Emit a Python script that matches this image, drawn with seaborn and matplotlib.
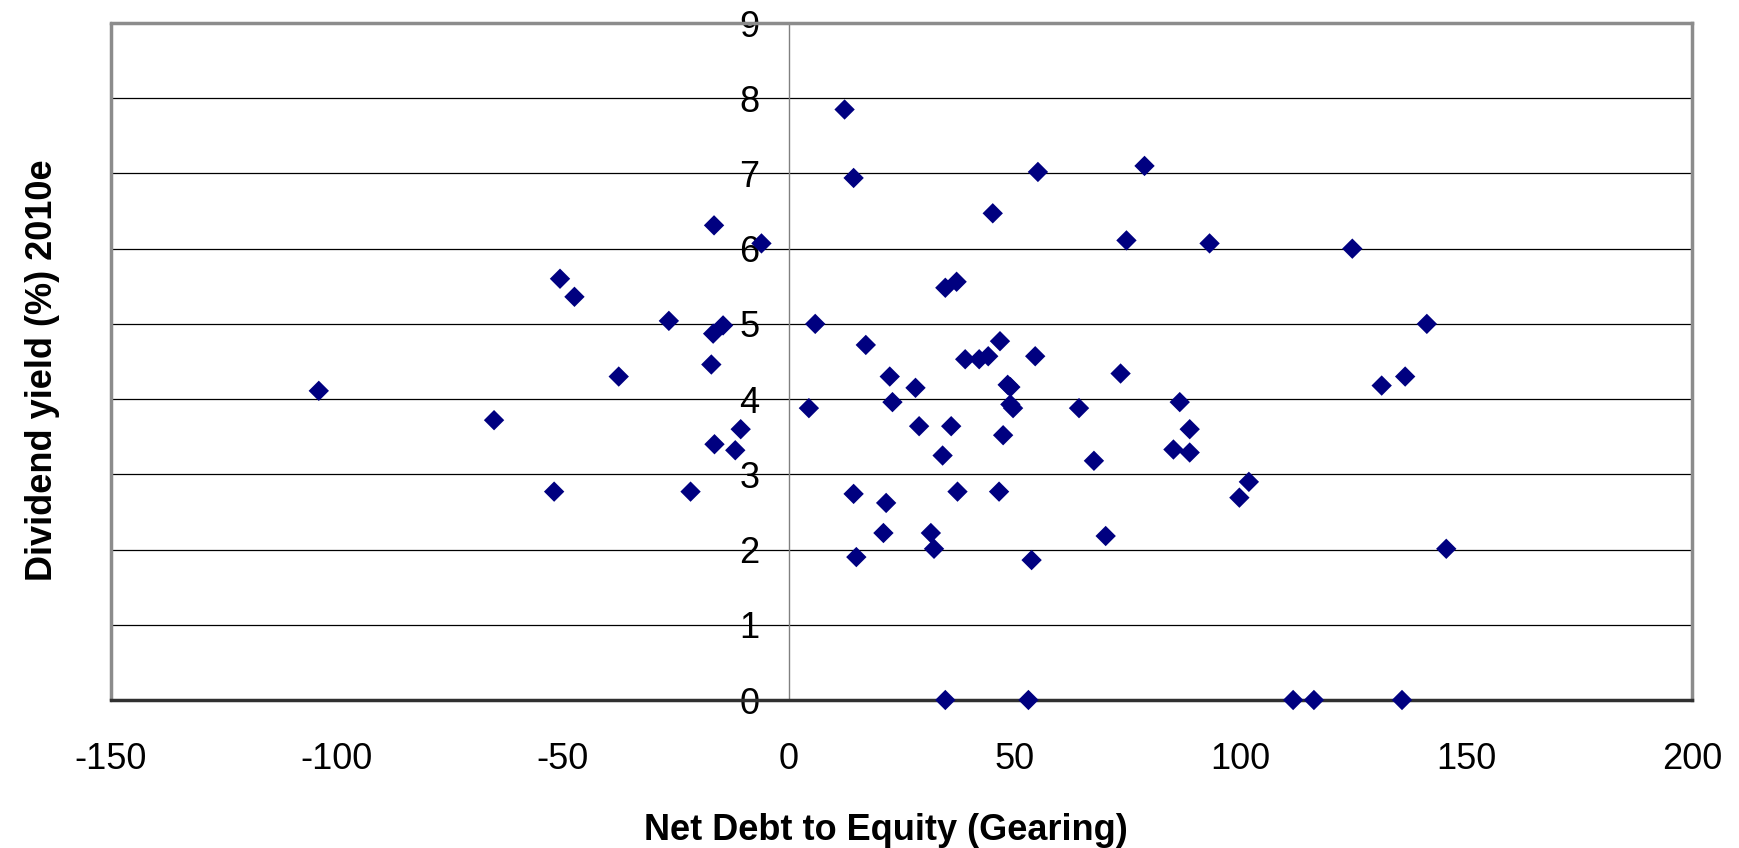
import matplotlib
matplotlib.use("Agg")
import matplotlib.pyplot as plt
import seaborn as sns
import pandas as pd

sns.set_style("white")
plt.rcParams['font.family'] = ['Liberation Sans', 'DejaVu Sans']
plt.rcParams['axes.unicode_minus'] = False
plt.rcParams['text.color'] = 'black'
plt.rcParams['axes.labelcolor'] = 'black'

# values: gearing (%) and 2010e dividend yield (%)
gearing = [-104, -65.2, -51.9, -37.6, -17.1, -21.7, -10.6, -16.4, -11.8, -16.5,
           -6.0, -50.6, -47.4, -26.5, -16.7, -14.5,
           12.4, 14.4, 55.2, 78.8, 45.2, 74.8, 93.2, 124.8, 34.7, 37.2,
           5.9, 141.3, 17.1, 46.8, 39.1, 42.2, 44.2, 54.6, 22.4, 28.1,
           49.1, 48.5, 73.5, 131.3, 136.5,
           4.5, 23.0, 49.7, 49.1, 64.3, 86.6, 28.9, 36.0, 47.5, 88.8,
           34.1, 85.2, 88.8, 67.6, 14.4, 37.4, 46.6, 21.6, 101.9, 99.8,
           21.0, 31.5, 32.2, 70.2, 15.0, 53.8, 145.6,
           34.7, 53.1, 111.7, 116.3, 135.8]
div_yield = [4.11, 3.72, 2.77, 4.30, 4.46, 2.77, 3.60, 3.40, 3.32, 6.31,
             6.07, 5.60, 5.36, 5.04, 4.87, 4.98,
             7.85, 6.94, 7.02, 7.10, 6.47, 6.11, 6.07, 6.00, 5.48, 5.56,
             5.00, 5.00, 4.72, 4.77, 4.53, 4.53, 4.57, 4.57, 4.30, 4.15,
             4.16, 4.19, 4.34, 4.18, 4.30,
             3.88, 3.96, 3.88, 3.93, 3.88, 3.96, 3.64, 3.64, 3.52, 3.60,
             3.25, 3.33, 3.29, 3.18, 2.74, 2.77, 2.77, 2.62, 2.90, 2.69,
             2.22, 2.22, 2.01, 2.18, 1.90, 1.86, 2.01,
             0, 0, 0, 0, 0]

x_ticks = [-150, -100, -50, 0, 50, 100, 150, 200]
y_ticks = [0, 1, 2, 3, 4, 5, 6, 7, 8, 9]

df = pd.DataFrame({'gearing': gearing, 'yield': div_yield})

fig = plt.figure(figsize=(17.39, 8.48), dpi=100)
ax = fig.add_axes([111/1739, 1 - 700/848, (1692 - 111)/1739, (700 - 23)/848])

# excel style diamond markers
diamond = [(0, 1), (1, 0), (0, -1), (-1, 0), (0, 1)]
sns.scatterplot(data=df, x='gearing', y='yield', ax=ax, marker=diamond, s=215,
                color='#000080', edgecolor='none', linewidth=0, zorder=5, clip_on=False)

ax.set_xlim(-150, 200)
ax.set_ylim(0, 9)
ax.set_xticks(x_ticks)
ax.set_yticks(y_ticks)

# gridlines
ax.set_axisbelow(True)
ax.yaxis.grid(True, color='black', linewidth=0.9)
ax.xaxis.grid(False)

# frame and axis lines
ax.spines['left'].set_position(('data', 0))
ax.spines['left'].set_color('#808080')
ax.spines['left'].set_linewidth(1)
for side in ['top', 'right']:
    ax.spines[side].set_color('#8c8c8c')
    ax.spines[side].set_linewidth(2.5)
ax.spines['bottom'].set_color('#303030')
ax.spines['bottom'].set_linewidth(2.5)
ax.plot([0, 0], [0, 1], transform=ax.transAxes, color='#8c8c8c', linewidth=2.5, clip_on=False)

ax.tick_params(axis='y', direction='out', length=8, width=1, color='#808080',
               labelcolor='black', pad=13, labelsize=26)
ax.tick_params(axis='x', direction='in', length=8.5, width=1, color='#303030',
               labelcolor='black', pad=30, labelsize=26)

ax.set_xlabel('Net Debt to Equity (Gearing)', fontsize=26, fontweight='bold')
ax.set_ylabel('Dividend yield (%) 2010e', fontsize=26, fontweight='bold')
ax.xaxis.set_label_coords(0.49, -0.167)
ax.yaxis.set_label_coords(-0.032, 0.487)

fig.savefig('out.png', dpi=100)
